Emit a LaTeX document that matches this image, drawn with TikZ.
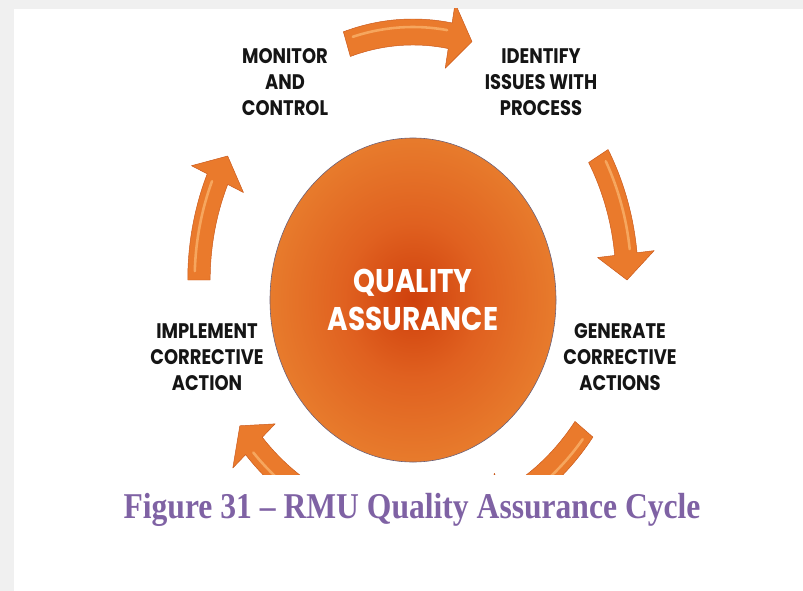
\documentclass[tikz,border=0pt]{standalone}
\usepackage{fontspec}
\usetikzlibrary{shapes.geometric}
\newfontfamily\lblfont[FakeStretch=0.85]{Poppins}
\newfontfamily\capfont[FakeStretch=0.87]{Liberation Serif}
\definecolor{PageGray}   {HTML}{F0F0F0}
\definecolor{CircOrange} {HTML}{E9812F}
\definecolor{MidOrange}  {HTML}{E06120}
\definecolor{CoreRed}    {HTML}{CF400C}
\definecolor{CircEdge}   {HTML}{6B6078}
\definecolor{ArrowOrange}{HTML}{EA7A2C}
\definecolor{ArrowEdge}  {HTML}{C9581B}
\definecolor{ArrowLight} {HTML}{F6A65E}
\definecolor{CapPurple}  {HTML}{7F62A4}
\definecolor{LabelBlack} {HTML}{151515}
\pgfdeclareradialshading{qacore}{\pgfpoint{0bp}{0bp}}{color(0bp)=(CoreRed);
  color(12bp)=(MidOrange); color(28bp)=(CircOrange); color(50bp)=(CircOrange)}
\tikzset{
  lbl/.style={font={\lblfont\bfseries\fontsize{18}{22}\selectfont},
              text=LabelBlack,align=center,inner sep=0pt},
  qacircle/.style={ellipse,draw=CircEdge,line width=0.5pt,shade,shading=qacore,
              minimum width=8.58cm,minimum height=9.72cm,inner sep=0pt,
              text=white,align=center,
              font={\lblfont\bfseries\fontsize{28}{33}\selectfont}},
  cycarrow/.style={fill=ArrowOrange,draw=ArrowEdge,line width=0.4pt,line join=round},
  cychigh/.style={draw=ArrowLight,line width=2.2pt,line cap=round},
  figcap/.style={font={\capfont\bfseries\fontsize{31}{36}\selectfont},
              text=CapPurple,inner sep=0pt},
}

\begin{document}
\begin{tikzpicture}[x=0.03cm,y=-0.03cm]
  \useasboundingbox (0,0) rectangle (803,591);
  \fill[PageGray] (0,0) rectangle (803,9);
  \fill[PageGray] (0,0) rectangle (14,591);

  \begin{scope}
    \clip (14,9) rectangle (803,474);
    \begin{scope}[shift={(413,280)},xscale=0.863,yscale=-1]
      \foreach \ta/\tb in {30/0,108/74,180/150,-110/-144,-37/-70}{
        \pgfmathsetmacro\hb{\tb+6}
        \filldraw[cycarrow] (\ta:261) arc[start angle=\ta,end angle=\hb,radius=261]
          -- (\hb:281) -- (\tb:248) -- (\hb:215) -- (\hb:235)
          arc[start angle=\hb,end angle=\ta,radius=235] -- cycle;
        \draw[cychigh] (\ta-2:253) arc[start angle=\ta-2,end angle=\hb+1,radius=253];
      }
    \end{scope}
  \end{scope}

  \node[qacircle] (qa) at (413,300) {QUALITY\\ASSURANCE};

  \node[lbl] (monitor)   at (285,82)  {MONITOR\\AND\\CONTROL};
  \node[lbl] (identify)  at (541,82)  {IDENTIFY\\ISSUES WITH\\PROCESS};
  \node[lbl] (implement) at (207,357) {IMPLEMENT\\CORRECTIVE\\ACTION};
  \node[lbl] (generate)  at (620,357) {GENERATE\\CORRECTIVE\\ACTIONS};

  \node[figcap,anchor=base] (caption) at (412,518) {Figure 31 – RMU Quality Assurance Cycle};
\end{tikzpicture}
\end{document}
